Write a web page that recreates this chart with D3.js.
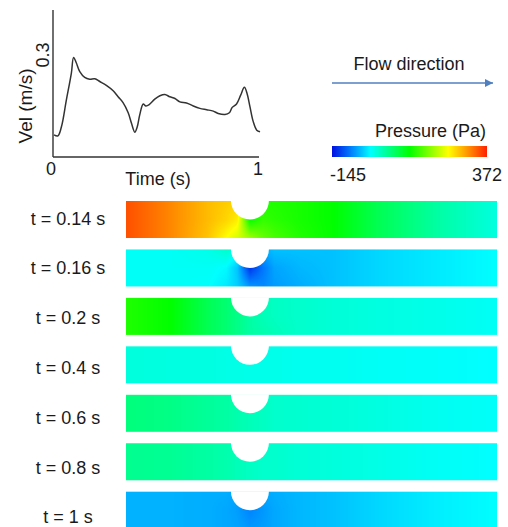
<!DOCTYPE html>
<html><head><meta charset="utf-8">
<script src="https://cdn.jsdelivr.net/npm/d3@7"></script>
<style>
html,body{margin:0;padding:0;background:#fff;}
svg{display:block;font-family:"Liberation Sans", Arial, sans-serif;}
</style></head><body>
<svg id="fig" width="508" height="527"></svg>
<script>
// ---- inflow velocity waveform ----
const timeValues = [0.005,0.024,0.041,0.065,0.089,0.100,0.113,0.130,0.154,0.178,0.203,0.227,0.259,0.292,0.316,0.340,0.365,0.381,0.397,0.409,0.421,0.438,0.451,0.467,0.494,0.519,0.543,0.567,0.592,0.616,0.648,0.681,0.713,0.746,0.778,0.802,0.835,0.856,0.870,0.891,0.911,0.929,0.942,0.956,0.972,0.989,1.005];
const velValues  = [0.065,0.062,0.089,0.168,0.246,0.293,0.277,0.251,0.234,0.229,0.230,0.222,0.211,0.195,0.177,0.160,0.130,0.099,0.073,0.089,0.124,0.156,0.150,0.154,0.170,0.180,0.184,0.177,0.172,0.162,0.159,0.150,0.143,0.139,0.135,0.128,0.125,0.130,0.146,0.156,0.182,0.205,0.187,0.148,0.104,0.079,0.074];
const xTicks = [0, 1];
const yTicks = [0.3];

// ---- pressure fields (Pa) sampled along the channel (fraction of length) ----
const panelLabels = ["t = 0.14 s","t = 0.16 s","t = 0.2 s","t = 0.4 s","t = 0.6 s","t = 0.8 s","t = 1 s"];
const gridStations = [0, 0.12, 0.22, 0.27, 0.30, 0.334, 0.37, 0.40, 0.47, 0.56, 0.68, 0.84, 1];
const gridRows = [0, 0.5, 1];   // top, middle, bottom of channel
const pressure_t014 = [
  [346,315,284,274,269,176,129,129,124,114,72,31,0],
  [346,315,284,268,253,114,139,134,124,114,72,31,0],
  [346,315,279,243,222,196,165,150,129,114,72,31,0]];
const pressure_t016 = [
  [-11,-11,-5,10,0,-68,-57,-47,-47,-47,-36,-26,-16],
  [-11,-11,-11,-18,-45,-124,-85,-62,-52,-47,-36,-26,-16],
  [-11,-11,-14,-26,-40,-68,-75,-66,-57,-47,-36,-26,-16]];
const pressure_t02 = [
  [129,114,72,57,46,31,20,15,10,5,0,-5,-11],
  [129,114,72,57,46,31,20,15,10,5,0,-5,-11],
  [129,114,72,57,46,31,26,20,10,5,0,-5,-11]];
const pressure_t04 = [
  [2,0,0,-3,-3,-5,-5,-5,-8,-8,-11,-13,-16],
  [2,0,0,-3,-3,-5,-5,-5,-8,-8,-11,-13,-16],
  [2,0,0,-3,-3,-5,-5,-5,-8,-8,-11,-13,-16]];
const pressure_t06 = [
  [51,46,36,31,26,20,15,10,8,5,0,-8,-13],
  [51,46,36,31,26,20,15,10,8,5,0,-8,-13],
  [51,46,36,31,26,20,15,10,8,5,0,-8,-13]];
const pressure_t08 = [
  [41,39,31,26,20,15,10,10,5,2,-3,-11,-16],
  [41,39,31,26,20,15,10,10,5,2,-3,-11,-16],
  [41,39,31,26,20,15,10,10,5,2,-3,-11,-16]];
const pressure_t1 = [
  [-55,-55,-57,-57,-60,-62,-60,-57,-52,-47,-36,-24,-16],
  [-55,-55,-57,-60,-65,-78,-68,-60,-52,-47,-36,-24,-16],
  [-55,-55,-57,-60,-62,-68,-65,-60,-52,-47,-36,-24,-16]];
const pressureFields = [pressure_t014, pressure_t016, pressure_t02, pressure_t04, pressure_t06, pressure_t08, pressure_t1];
const pressureDomain = [-145, 372];
const colorbarLabels = ["-145", "372"];

// ---- drawing ----
const svg = d3.select("#fig");
const FONT = 18;
const TXT = "#1a1a1a";

// velocity chart
const x = d3.scaleLinear().domain([0, 1]).range([53, 259]);
const y = d3.scaleLinear().domain([0, 0.3]).range([157, 55]);
const chart = svg.append("g");
chart.append("line").attr("x1", x(0)).attr("x2", x(0)).attr("y1", y(0)).attr("y2", 10)
  .attr("stroke", "#333").attr("stroke-width", 1.4);
chart.append("line").attr("x1", x(0)).attr("x2", x(1)).attr("y1", y(0)).attr("y2", y(0))
  .attr("stroke", "#333").attr("stroke-width", 1.4);
chart.selectAll("text.xt").data(xTicks).join("text").attr("class", "xt")
  .attr("x", d => x(d) - (d === 0 ? 2 : 1)).attr("y", 175).attr("text-anchor", "middle")
  .attr("font-size", FONT).attr("fill", TXT).text(d => d);
chart.selectAll("text.yt").data(yTicks).join("text").attr("class", "yt")
  .attr("transform", d => `translate(49,${y(d)}) rotate(-90)`).attr("text-anchor", "middle")
  .attr("font-size", FONT).attr("fill", TXT).text(d => d);
chart.append("text").attr("x", 158).attr("y", 185).attr("text-anchor", "middle")
  .attr("font-size", FONT).attr("fill", TXT).text("Time (s)");
chart.append("text").attr("transform", "translate(32,106) rotate(-90)").attr("text-anchor", "middle")
  .attr("font-size", 19).attr("fill", TXT).text("Vel (m/s)");
const line = d3.line().x((d, i) => x(timeValues[i])).y(d => y(d)).curve(d3.curveCatmullRom);
chart.append("path").datum(velValues).attr("d", line).attr("fill", "none")
  .attr("stroke", "#333").attr("stroke-width", 1.5);

// flow direction arrow
const defs = svg.append("defs");
defs.append("marker").attr("id", "ah").attr("viewBox", "0 0 10 10")
  .attr("refX", 10).attr("refY", 5).attr("markerWidth", 10).attr("markerHeight", 8)
  .attr("markerUnits", "userSpaceOnUse").attr("orient", "auto")
  .append("path").attr("d", "M0,0L10,5L0,10Z").attr("fill", "#4f7fbf");
svg.append("line").attr("x1", 332).attr("x2", 493).attr("y1", 83).attr("y2", 83)
  .attr("stroke", "#4f7fbf").attr("stroke-width", 1.3).attr("marker-end", "url(#ah)");
svg.append("text").attr("x", 409).attr("y", 70).attr("text-anchor", "middle")
  .attr("font-size", FONT).attr("fill", TXT).text("Flow direction");

// colour scale (jet-like)
const pr = pressureDomain[1] - pressureDomain[0];
const color = d3.scaleLinear()
  .domain([0, 0.125, 0.25, 0.5, 0.75, 0.88, 1].map(f => pressureDomain[0] + f * pr))
  .range(["#0010e0", "#0080ff", "#00ffff", "#00ff00", "#ffff00", "#ff9000", "#ff2000"])
  .interpolate(d3.interpolateRgb).clamp(true);

// colorbar
const cb = d3.scaleLinear().domain(pressureDomain).range([332, 487]);
const grad = defs.append("linearGradient").attr("id", "cbg");
grad.selectAll("stop").data(d3.range(0, 1.0001, 0.05)).join("stop")
  .attr("offset", d => d).attr("stop-color", d => color(pressureDomain[0] + d * pr));
svg.append("rect").attr("x", cb(pressureDomain[0])).attr("y", 146)
  .attr("width", cb(pressureDomain[1]) - cb(pressureDomain[0])).attr("height", 11).attr("fill", "url(#cbg)");
svg.append("text").attr("x", 486).attr("y", 137).attr("text-anchor", "end")
  .attr("font-size", FONT).attr("fill", TXT).text("Pressure (Pa)");
svg.append("text").attr("x", 330).attr("y", 181).attr("text-anchor", "start")
  .attr("font-size", FONT).attr("fill", TXT).text(colorbarLabels[0]);
svg.append("text").attr("x", 502).attr("y", 181).attr("text-anchor", "end")
  .attr("font-size", FONT).attr("fill", TXT).text(colorbarLabels[1]);

// pressure panels
const px = d3.scaleLinear().domain([0, 1]).range([126, 497]);
const panelY = d3.scaleLinear().domain([0, 6]).range([201, 491.7]);
const labelY = d3.scaleLinear().domain([0, 6]).range([224.5, 523.3]);
const PH = 37, NOTCH_X = 0.334, NOTCH_R = 19;
const W = Math.round(px(1) - px(0)), H = PH;
const notchArc = d3.arc().innerRadius(0).outerRadius(NOTCH_R).startAngle(Math.PI / 2).endAngle(3 * Math.PI / 2);

pressureFields.forEach((field, k) => {
  const rowScales = field.map(r => d3.scaleLinear().domain(gridStations).range(r));
  const canvas = document.createElement("canvas");
  canvas.width = W; canvas.height = H;
  const ctx = canvas.getContext("2d");
  const img = ctx.createImageData(W, H);
  for (let i = 0; i < W; i++) {
    const u = (i + 0.5) / W;
    const col = d3.scaleLinear().domain(gridRows).range(rowScales.map(s => s(u)));
    for (let j = 0; j < H; j++) {
      const c = d3.rgb(color(col((j + 0.5) / H)));
      const o = (j * W + i) * 4;
      img.data[o] = c.r; img.data[o + 1] = c.g; img.data[o + 2] = c.b; img.data[o + 3] = 255;
    }
  }
  ctx.putImageData(img, 0, 0);
  const top = panelY(k);
  svg.append("image").attr("href", canvas.toDataURL()).attr("x", px(0)).attr("y", top)
    .attr("width", W).attr("height", H).attr("preserveAspectRatio", "none");
  svg.append("path").attr("d", notchArc).attr("transform", `translate(${px(NOTCH_X)},${top - 0.5})`)
    .attr("fill", "#fff");
  svg.append("text").attr("x", 68).attr("y", labelY(k)).attr("text-anchor", "middle")
    .attr("font-size", FONT).attr("fill", TXT).text(panelLabels[k]);
});
</script>
</body></html>
